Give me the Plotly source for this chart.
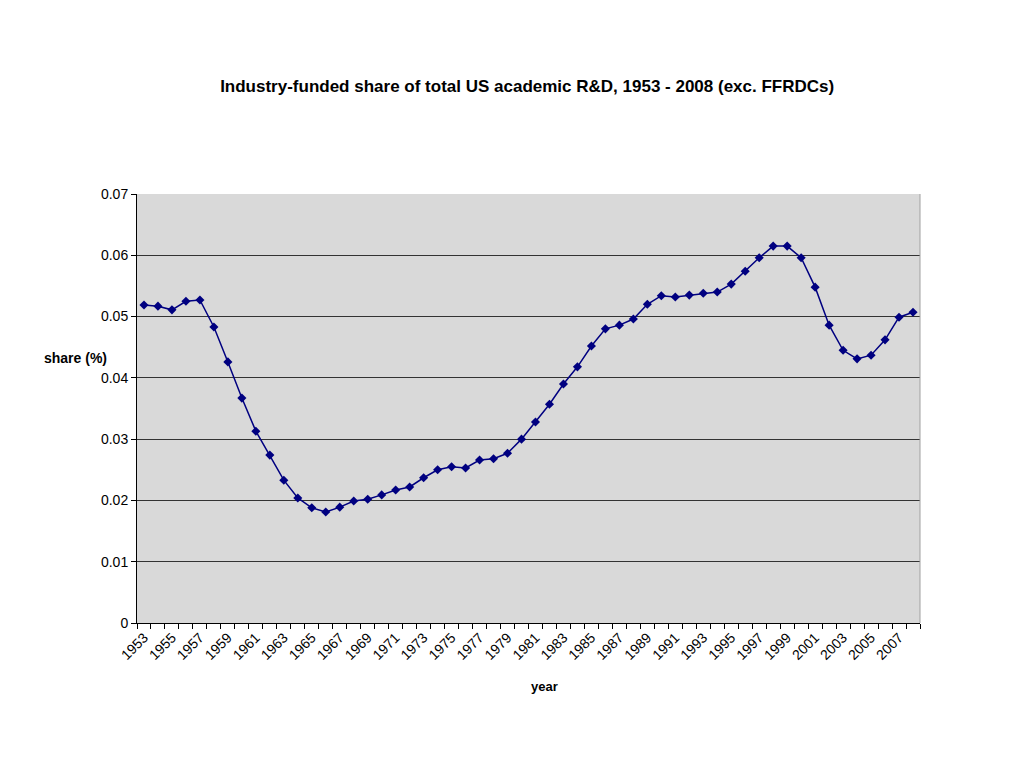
import plotly.graph_objects as go

years = list(range(1953, 2009))
share = [0.0519, 0.0517, 0.0511, 0.0525, 0.0527, 0.0483, 0.0426, 0.0367, 0.0313, 0.0274,
         0.0233, 0.0204, 0.0188, 0.0181, 0.0189, 0.0199, 0.0202, 0.0209, 0.0217, 0.0222,
         0.0237, 0.0250, 0.0255, 0.0253, 0.0266, 0.0268, 0.0277, 0.0300, 0.0328, 0.0357,
         0.0390, 0.0418, 0.0452, 0.0480, 0.0486, 0.0496, 0.0520, 0.0534, 0.0532, 0.0535,
         0.0538, 0.0540, 0.0553, 0.0574, 0.0596, 0.0615, 0.0615, 0.0596, 0.0548, 0.0486,
         0.0445, 0.0431, 0.0437, 0.0462, 0.0499, 0.0507]
y_ticks = [0, 0.01, 0.02, 0.03, 0.04, 0.05, 0.06, 0.07]
y_labels = ["0", "0.01", "0.02", "0.03", "0.04", "0.05", "0.06", "0.07"]

font = "Liberation Sans, Arial, sans-serif"

fig = go.Figure()
fig.add_trace(go.Scatter(
    x=years, y=share,
    mode="lines+markers",
    line=dict(color="#000080", width=1.5),
    marker=dict(symbol="diamond", size=7, color="#000080"),
    showlegend=False,
))

# page adds ~8px body margin, so margins are shifted to compensate
fig.update_layout(
    width=1024, height=768,
    paper_bgcolor="white",
    plot_bgcolor="#d9d9d9",
    margin=dict(l=129, r=112, t=186, b=153),
    font=dict(family=font, size=14, color="black"),
    title=dict(
        text="<b>Industry-funded share of total US academic R&D, 1953 - 2008 (exc. FFRDCs)</b>",
        x=0.507, xanchor="center", y=0.899, yanchor="middle",
        font=dict(size=17),
    ),
    xaxis=dict(
        range=[min(years) - 0.5, max(years) + 0.5],
        tickmode="linear", tick0=1953, dtick=2,
        tickangle=-45, ticks="",
        showgrid=False, zeroline=False,
        showline=True, linecolor="black", linewidth=1,
        minor=dict(tickmode="linear", tick0=1952.5, dtick=1,
                   ticks="outside", ticklen=5, tickcolor="black", showgrid=False),
        tickfont=dict(size=14),
    ),
    yaxis=dict(
        range=[0, 0.07],
        tickvals=y_ticks, ticktext=y_labels,
        ticks="outside", ticklen=5, tickcolor="black",
        showgrid=True, gridcolor="#333333", gridwidth=1,
        zeroline=False,
        showline=True, linecolor="black", linewidth=1,
        tickfont=dict(size=14),
    ),
    shapes=[dict(type="line", xref="paper", yref="paper", x0=1, x1=1, y0=0, y1=1,
                 line=dict(color="#a0a0a0", width=1))],
    annotations=[
        dict(text="<b>share (%)</b>", xref="paper", yref="paper",
             x=-0.036, y=0.617, xanchor="right", yanchor="middle",
             showarrow=False, font=dict(size=14)),
        dict(text="<b>year</b>", xref="paper", yref="paper",
             x=0.521, y=-0.149, xanchor="center", yanchor="middle",
             showarrow=False, font=dict(size=13)),
    ],
)

fig.write_html("out.html")
